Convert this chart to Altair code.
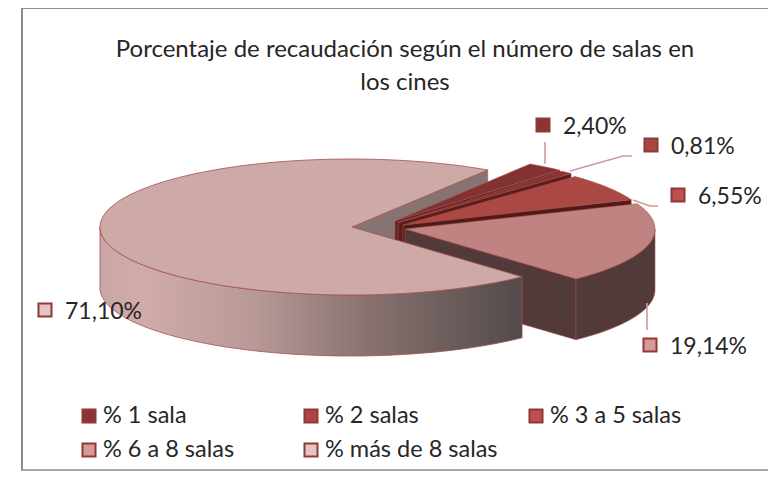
import math
import altair as alt

# ---- values
categories = ["% 1 sala", "% 2 salas", "% 3 a 5 salas", "% 6 a 8 salas", "% más de 8 salas"]
percent = [2.40, 0.81, 6.55, 19.14, 71.10]
value_labels = ["2,40%", "0,81%", "6,55%", "19,14%", "71,10%"]
title_lines = ["Porcentaje de recaudación según el número de salas en", "los cines"]

# ---- styles and layout (page pixels, the page margin is subtracted below)
FONT = "Lato"
TOP = ["#823331", "#8a3331", "#ac4844", "#bf8481", "#cdaaa8"]
WALL = ["#5e2220", "#5a1f1d", "#4f1a18", "#533a3a", "#877472"]
SWATCH = ["#8a3533", "#ab4541", "#c0504d", "#d89a98", "#e6c4c2"]
EDGE = "#a5504d"
RADII = [248, 248, 248, 248, 251]
RY, DEPTH = 68, 61
START_ANGLE = 57            # where the largest slice starts, going counter-clockwise
APEX = [(395, 221), (398, 222.5), (403, 225), (405, 229), (352, 227)]
CENTER = [(395, 221), (397, 222), (401, 225), (407, 229), (351, 227)]
LABEL_MARK = [(543, 125), (651, 145), (678, 195), (650, 345), (45, 310)]
LEADERS = [
    [(545, 142), (545, 164)],
    [(632, 156), (623, 156), (570, 171)],
    [(658, 206), (650, 206), (633, 200)],
    [(647, 303), (647, 330)],
]
LEGEND_X = [89, 311, 536, 89, 311]
LEGEND_Y = [416, 416, 416, 450, 450]


def pg(p):
    return [p[0] - 8, p[1] - 8]


def pt(i, deg, dy=0):
    t = math.radians(deg)
    return (CENTER[i][0] + RADII[i] * math.cos(t), CENTER[i][1] - RY * math.sin(t) + dy)


def arc(i, a, b, dy=0):
    n = max(2, int(abs(b - a) / 2) + 1)
    return [pt(i, a + (b - a) * k / (n - 1), dy) for k in range(n)]


def feature(points, fill, closed=True):
    c = [pg(p) for p in points]
    if closed:
        c = c + [c[0]]
        geom = {"type": "Polygon", "coordinates": [c]}
    else:
        geom = {"type": "LineString", "coordinates": c}
    return {"type": "Feature", "geometry": geom, "properties": {"fill": fill}}


def geo(features):
    return alt.InlineData(
        values={"type": "FeatureCollection", "features": features},
        format=alt.DataFormat(type="json", property="features"),
    )


PROJ = dict(type="identity", scale=1, translate=[0, 0])

# slice angles follow from the percentages
sweep = [p * 3.6 for p in percent]
a_main0 = START_ANGLE
a_main1 = a_main0 + sweep[4]
a6 = a_main1 + sweep[3]
a3 = a6 + sweep[2]
a2 = a3 + sweep[1]
a1 = a2 + sweep[0]
spans = [(a2, a1), (a3, a2), (a6, a3), (a_main1, a6), (a_main0, a_main1)]


def wall(i, deg):
    e = pt(i, deg)
    a = APEX[i]
    return feature([a, e, (e[0], e[1] + DEPTH), (a[0], a[1] + DEPTH)], WALL[i])


def top(i):
    return feature([APEX[i]] + arc(i, *spans[i]), TOP[i])


back = [wall(4, a_main0)]
for i in (0, 1, 2):
    back += [wall(i, spans[i][0]), top(i)]
back += [
    wall(3, spans[3][0]),
    feature(arc(3, spans[3][0], 360) + arc(3, 360, spans[3][0], DEPTH), WALL[3]),
    top(3),
]

shape_fill = alt.Fill("properties.fill:N", scale=None)

back_layer = alt.Chart(geo(back)).mark_geoshape(stroke=EDGE, strokeWidth=0.6).encode(fill=shape_fill).project(**PROJ)

main_side = alt.Chart(
    geo([feature(arc(4, 180, a_main1) + arc(4, a_main1, 180, DEPTH), "side")])
).mark_geoshape(
    stroke=EDGE,
    strokeWidth=0.8,
    fill=alt.LinearGradient(
        gradient="linear",
        x1=0, x2=1, y1=0, y2=0,
        stops=[
            alt.GradientStop(color="#c9a6a5", offset=0),
            alt.GradientStop(color="#d0abaa", offset=0.1),
            alt.GradientStop(color="#b99a99", offset=0.36),
            alt.GradientStop(color="#8b7472", offset=0.62),
            alt.GradientStop(color="#514a49", offset=1),
        ],
    ),
).project(**PROJ)

main_top = alt.Chart(geo([top(4)])).mark_geoshape(stroke=EDGE, strokeWidth=0.8).encode(fill=shape_fill).project(**PROJ)

leaders = alt.Chart(
    geo([feature(l, "none", closed=False) for l in LEADERS])
).mark_geoshape(filled=False, stroke="#d09a98", strokeWidth=1.6).project(**PROJ)

frame = alt.Chart(
    geo([feature([(22, 480), (22, 8), (780, 8)], "none", closed=False)])
).mark_geoshape(filled=False, stroke="#8c8c8c", strokeWidth=2).project(**PROJ)
frame_bottom = alt.Chart(
    geo([feature([(22, 470), (780, 470)], "none", closed=False)])
).mark_geoshape(filled=False, stroke="#a6a6a6", strokeWidth=2).project(**PROJ)

X = lambda f: alt.X(f, scale=None, axis=None)
Y = lambda f: alt.Y(f, scale=None, axis=None)

title_rows = [{"t": t, "x": 405 - 8, "y": y - 8} for t, y in zip(title_lines, [50, 83])]
title = alt.Chart(alt.Data(values=title_rows)).mark_text(
    font=FONT, fontSize=24, color="#262626", align="center", baseline="middle"
).encode(x=X("x:Q"), y=Y("y:Q"), text="t:N")

label_rows = [
    {"t": t, "x": m[0] - 8, "y": m[1] - 8, "fill": SWATCH[i]}
    for i, (t, m) in enumerate(zip(value_labels, LABEL_MARK))
]
label_marks = alt.Chart(alt.Data(values=label_rows)).mark_square(
    size=170, opacity=1, stroke="#8f3a37", strokeWidth=2
).encode(x=X("x:Q"), y=Y("y:Q"), fill=alt.Fill("fill:N", scale=None))
label_text = alt.Chart(alt.Data(values=label_rows)).mark_text(
    font=FONT, fontSize=23, color="#262626", align="left", baseline="middle", dx=20, dy=2
).encode(x=X("x:Q"), y=Y("y:Q"), text="t:N")

legend_rows = [
    {"t": c, "x": x - 8, "y": y - 8, "fill": SWATCH[i]}
    for i, (c, x, y) in enumerate(zip(categories, LEGEND_X, LEGEND_Y))
]
legend_marks = alt.Chart(alt.Data(values=legend_rows)).mark_square(
    size=170, opacity=1, stroke="#8f3a37", strokeWidth=2
).encode(x=X("x:Q"), y=Y("y:Q"), fill=alt.Fill("fill:N", scale=None))
legend_text = alt.Chart(alt.Data(values=legend_rows)).mark_text(
    font=FONT, fontSize=23.5, color="#262626", align="left", baseline="middle", dx=14
).encode(x=X("x:Q"), y=Y("y:Q"), text="t:N")

chart = alt.layer(
    frame, frame_bottom, back_layer, main_side, main_top, leaders,
    title, label_marks, label_text, legend_marks, legend_text,
).properties(width=760, height=463, padding=0, background="white").configure_view(stroke=None)

chart.save("out.html", embed_options={"renderer": "svg", "actions": False})
